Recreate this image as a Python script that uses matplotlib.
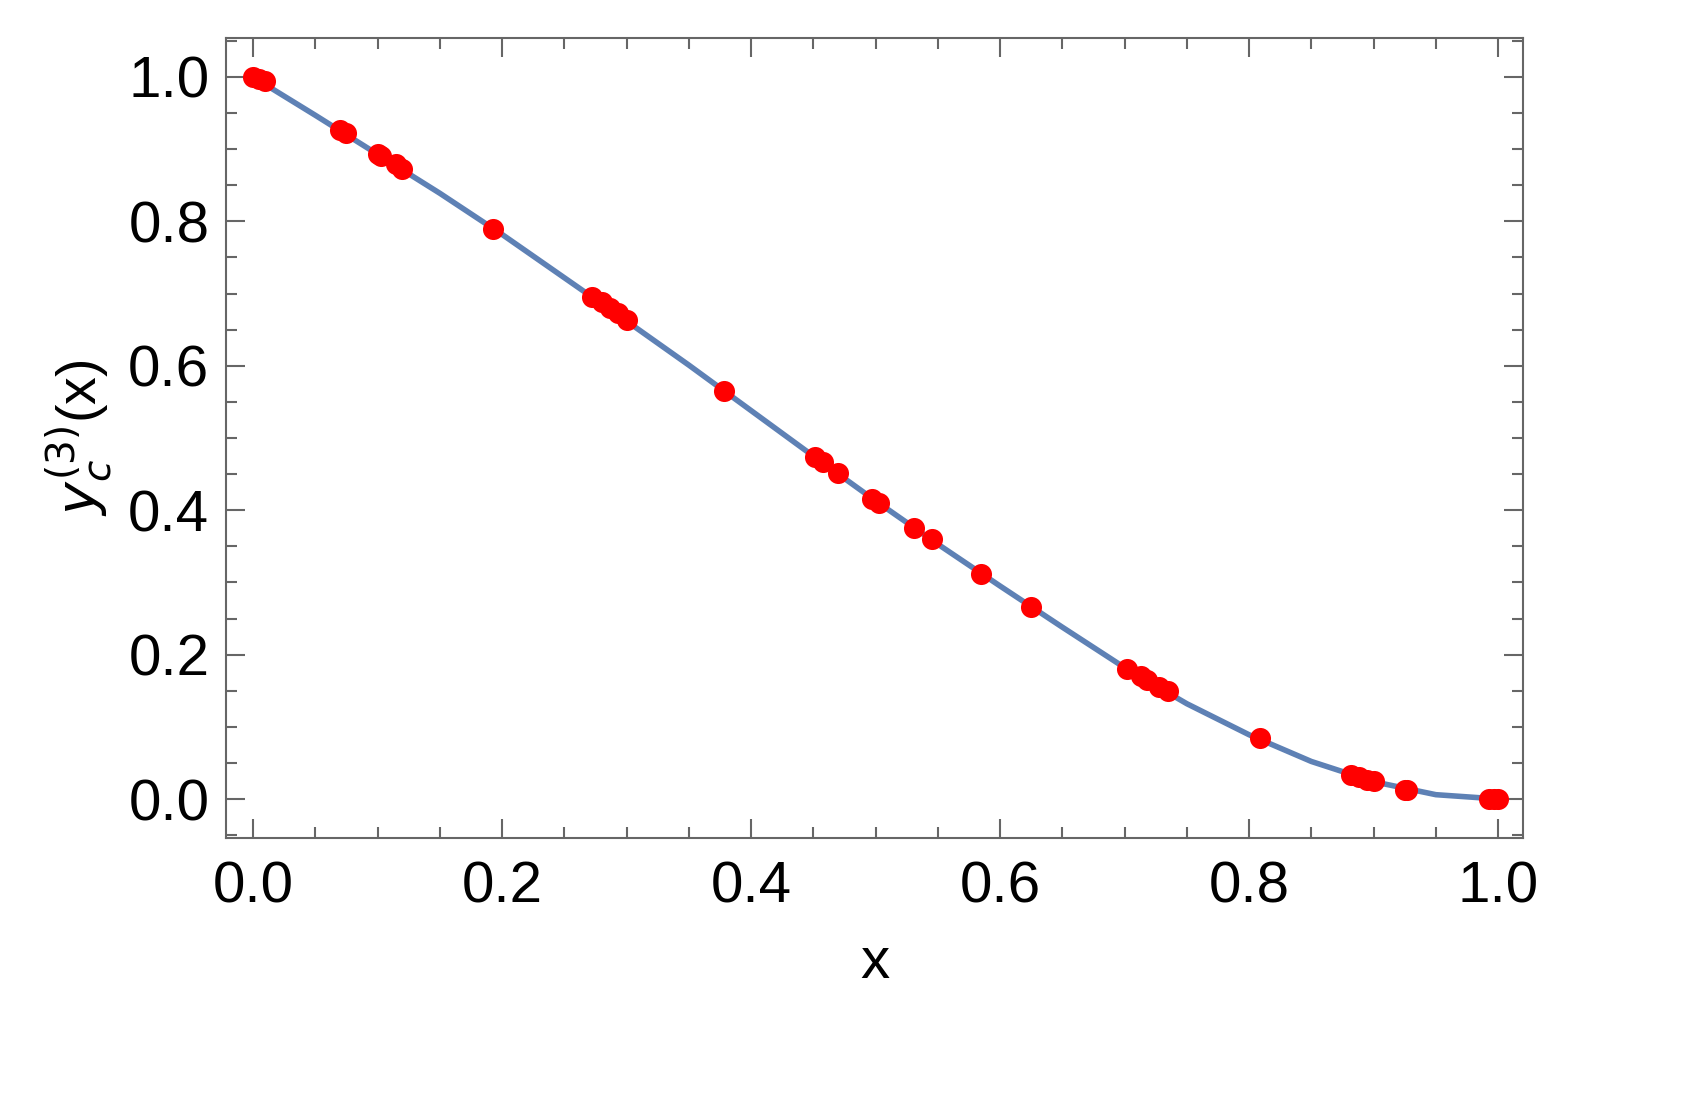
import matplotlib
matplotlib.use("Agg")
import matplotlib.pyplot as plt
from matplotlib.ticker import MultipleLocator

curve_x = [0, 0.05, 0.1, 0.15, 0.2, 0.25, 0.3, 0.35, 0.4, 0.45, 0.5, 0.55, 0.6, 0.65, 0.7, 0.75, 0.8, 0.85, 0.9, 0.95, 1.0]
curve_y = [1.0, 0.947, 0.893, 0.839, 0.782, 0.722, 0.662, 0.601, 0.538, 0.475, 0.413, 0.353, 0.295, 0.238, 0.182, 0.132, 0.089, 0.052, 0.024, 0.006, 0.0]

pts_x = [0, 0.005, 0.01, 0.07, 0.075, 0.1, 0.103, 0.115, 0.12, 0.193, 0.272, 0.28, 0.287, 0.293, 0.3,
         0.378, 0.451, 0.458, 0.47, 0.497, 0.503, 0.531, 0.545, 0.585, 0.625, 0.702, 0.713, 0.718,
         0.728, 0.735, 0.809, 0.882, 0.888, 0.895, 0.9, 0.925, 0.927, 0.993, 0.997, 1.0]
pts_y = [1.0, 0.997, 0.994, 0.927, 0.923, 0.893, 0.89, 0.88, 0.872, 0.79, 0.695, 0.688, 0.68, 0.673, 0.664,
         0.565, 0.474, 0.467, 0.452, 0.416, 0.41, 0.375, 0.36, 0.312, 0.266, 0.18, 0.17, 0.165,
         0.155, 0.149, 0.084, 0.033, 0.03, 0.027, 0.025, 0.013, 0.012, 0.0, 0.0, 0.0]

plt.rcParams['font.family'] = ['Liberation Sans', 'DejaVu Sans']
fig = plt.figure(figsize=(16.96, 11.01), dpi=100)
ax = fig.add_axes([226/1696, 1-838/1101, (1523-226)/1696, (838-38)/1101])
ax.plot(curve_x, curve_y, color='#5e81b5', lw=4, zorder=2)
ax.scatter(pts_x, pts_y, s=230, color='#ff0000', zorder=3, linewidths=0)
ax.set_xlim(-0.0217, 1.02)
ax.set_ylim(-0.054, 1.054)
ax.xaxis.set_major_locator(MultipleLocator(0.2))
ax.xaxis.set_minor_locator(MultipleLocator(0.05))
ax.yaxis.set_major_locator(MultipleLocator(0.2))
ax.yaxis.set_minor_locator(MultipleLocator(0.05))
ax.xaxis.set_major_formatter(matplotlib.ticker.FormatStrFormatter('%.1f'))
ax.yaxis.set_major_formatter(matplotlib.ticker.FormatStrFormatter('%.1f'))
for s in ax.spines.values():
    s.set_color('#666666'); s.set_linewidth(1.5)
ax.tick_params(which='both', direction='in', top=True, right=True, colors='#666666', labelcolor='black', labelsize=42, width=1.5)
ax.tick_params(which='major', length=14)
ax.tick_params(which='minor', length=8)
ax.tick_params(axis='x', pad=16)
ax.tick_params(axis='y', pad=12)
ax.set_xlabel('x', fontsize=42, labelpad=16)
ax.set_ylabel(r'$y_c^{(3)}$(x)', fontsize=40, labelpad=10)
fig.savefig('out.png', dpi=100)
